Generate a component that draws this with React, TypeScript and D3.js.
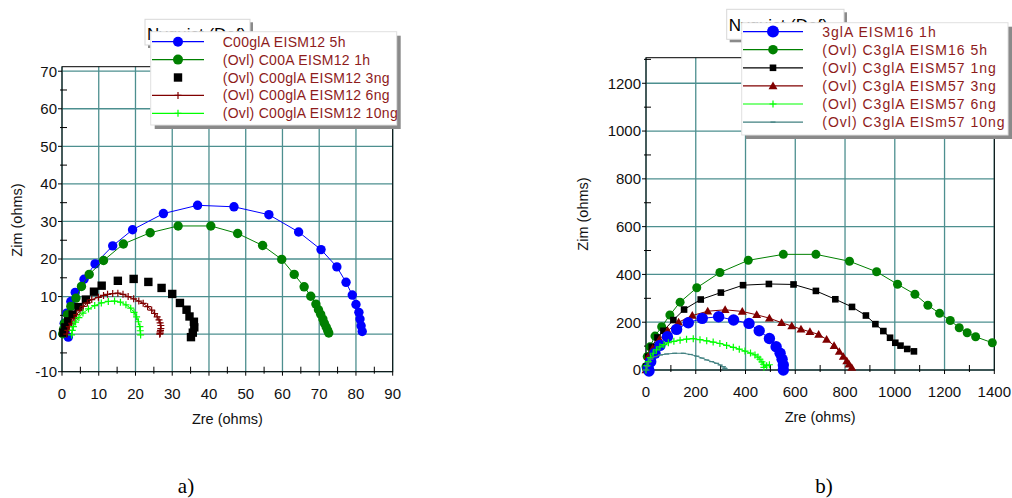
import React, { useEffect, useRef } from "react";
import * as d3 from "d3";

type Pt = [number, number];

// ---------- panel a) ----------
const aXTicks = [0, 10, 20, 30, 40, 50, 60, 70, 80, 90];
const aYTicks = [-10, 0, 10, 20, 30, 40, 50, 60, 70];
const aLabels = [
  "C00glA EISM12 5h",
  "(Ovl) C00A EISM12 1h",
  "(Ovl) C00glA EISM12 3ng",
  "(Ovl) C00glA EISM12 6ng",
  "(Ovl) C00glA EISM12 10ng",
];
const aBlue5h: Pt[] = [
  [1.7, -0.8], [0.8, 0.6], [0.6, 2.9], [1.3, 5.6], [2.4, 8.7], [3.6, 11.1], [6.0, 14.6],
  [9.0, 18.7], [13.8, 23.5], [19.2, 27.8], [27.6, 32.1], [36.9, 34.3], [46.8, 33.9],
  [56.3, 31.8], [64.4, 27.2], [70.5, 22.5], [74.8, 17.9], [77.3, 13.8], [79.0, 10.4],
  [80.0, 7.9], [80.8, 5.8], [81.1, 4.0], [81.4, 2.2], [81.7, 0.7],
];
const aGreen1h: Pt[] = [
  [0.2, 0.1], [0.4, 1.2], [0.7, 2.9], [1.5, 5.2], [2.4, 7.4], [3.8, 9.6], [5.3, 12.7],
  [7.4, 15.9], [11.3, 19.6], [16.7, 24.0], [24.0, 27.0], [31.6, 28.8], [40.5, 28.8],
  [47.8, 26.8], [54.6, 23.6], [59.8, 19.9], [63.2, 15.9], [65.9, 12.6], [67.7, 10.1],
  [69.1, 8.0], [69.8, 6.5], [70.4, 5.3], [71.0, 4.0], [71.4, 2.9], [71.9, 1.9],
  [72.3, 1.0], [72.6, 0.3],
];
const aBlack3ng: Pt[] = [
  [0.4, 0.4], [0.9, 1.8], [1.7, 3.4], [2.9, 5.2], [4.5, 7.2], [6.5, 9.2], [8.7, 11.3],
  [10.8, 12.9], [15.2, 14.2], [19.5, 14.7], [23.5, 13.9], [27.1, 12.3], [30.0, 10.7],
  [32.1, 8.3], [33.9, 6.5], [34.7, 4.7], [35.9, 3.3], [36.0, 1.8], [35.6, 0.4], [35.1, -0.8],
];
const aRed6ng: Pt[] = [
  [1.3, 0], [1.6, 1.0], [2.0, 2.0], [2.6, 2.9], [3.3, 4.1], [4.0, 5.2], [4.9, 6.3],
  [5.8, 7.4], [6.9, 8.3], [8.1, 9.2], [9.9, 9.8], [11.3, 10.3], [12.4, 10.6], [13.8, 10.8],
  [15.2, 10.9], [16.6, 10.6], [18.0, 10.0], [19.5, 9.4], [20.9, 8.8], [22.1, 8.2],
  [23.3, 7.3], [24.4, 6.4], [25.2, 5.5], [25.9, 4.6], [26.4, 3.8], [26.7, 3.0], [26.9, 2.3],
  [26.9, 1.5], [26.8, 1.0], [26.7, 0.6], [26.7, 0.2], [26.6, 0.0],
];
const aLime10ng: Pt[] = [
  [2.6, -0.2], [2.8, 1.0], [3.1, 2.0], [3.7, 3.2], [4.6, 4.4], [5.7, 5.6], [7.2, 6.7],
  [8.9, 7.6], [10.7, 8.3], [12.6, 8.7], [14.3, 8.8], [15.9, 8.5], [17.4, 7.8], [18.7, 6.9],
  [19.6, 5.8], [20.3, 4.6], [20.8, 3.3], [21.2, 2.0], [21.3, 0.9], [21.4, -0.2],
];

// ---------- panel b) ----------
const bXTicks = [0, 200, 400, 600, 800, 1000, 1200, 1400];
const bYTicks = [0, 200, 400, 600, 800, 1000, 1200];
const bLabels = [
  "3glA EISM16 1h",
  "(Ovl) C3glA EISM16 5h",
  "(Ovl) C3glA EISM57 1ng",
  "(Ovl) C3glA EISM57 3ng",
  "(Ovl) C3glA EISM57 6ng",
  "(Ovl) C3glA EISm57 10ng",
];
const bBlue1h: Pt[] = [
  [12, -4], [9, 7], [19, 35], [36, 70], [56, 103], [86, 139], [123, 170], [170, 198],
  [226, 216], [292, 223], [352, 209], [414, 195], [455, 164], [496, 132], [523, 97],
  [539, 70], [547, 45], [552, 21], [552, 0],
];
const bGreen5h: Pt[] = [
  [0, 14], [5, 56], [16, 97], [36, 142], [63, 181], [96, 230], [137, 284], [204, 344],
  [297, 408], [411, 459], [552, 484], [683, 484], [818, 455], [927, 411], [1011, 359],
  [1081, 317], [1133, 271], [1180, 237], [1223, 207], [1259, 177], [1291, 156],
  [1325, 139], [1392, 114],
];
const bBlack1ng: Pt[] = [
  [1, 14], [9, 56], [23, 97], [46, 136], [70, 164], [110, 209], [153, 253], [220, 295],
  [301, 324], [390, 355], [494, 360], [593, 358], [683, 331], [761, 296], [828, 264],
  [884, 228], [922, 192], [954, 163], [981, 135], [1002, 114], [1023, 102], [1050, 88],
  [1077, 78],
];
const bRed3ng: Pt[] = [
  [0, 0], [2, 14], [9, 56], [27, 90], [54, 128], [87, 164], [131, 200], [186, 228],
  [248, 246], [318, 252], [387, 245], [445, 231], [496, 217], [545, 198], [586, 184],
  [623, 171], [659, 160], [694, 149], [726, 128], [756, 102], [777, 77], [793, 56],
  [807, 38], [816, 24], [827, 10],
];
const bLime6ng: Pt[] = [
  [0, 0], [4, 18], [9, 35], [18, 52], [29, 70], [42, 84], [56, 97], [72, 106], [90, 114],
  [112, 120], [137, 125], [163, 129], [190, 131], [217, 127], [244, 122], [270, 117],
  [297, 111], [324, 103], [351, 95], [375, 87], [398, 79], [420, 71], [438, 63],
  [450, 54], [458, 45], [466, 34], [472, 24], [474, 11], [485, 18], [496, 22],
];
const bTeal10ng: Pt[] = [
  [0, 0], [4, 15], [9, 31], [20, 45], [36, 56], [58, 63], [83, 67], [115, 70], [150, 70],
  [178, 65], [204, 58], [225, 50], [244, 42], [264, 35], [284, 28], [298, 21], [311, 14],
  [316, 8], [318, 5],
];

const GRID = "#4d8f8f";
const LEG_TEXT = "#8e1b1b";

type Marker = "circle" | "square" | "plus" | "triangle" | "dash" | "none";
interface Series {
  data: Pt[];
  color: string;
  marker: Marker;
  size: number;
  line: boolean;
}

interface Panel {
  left: number; right: number; top: number; bottom: number;
  xDomain: [number, number]; yDomain: [number, number];
  xTicks: number[]; yTicks: number[]; xMinor: number; yMinor: number;
  series: Series[]; order: number[];
  labels: string[];
  legend: { x0: number; x1: number; y0: number; y1: number; row0: number; step: number; lineX0: number; lineX1: number; textX: number; spacing: number };
  title: { x0: number; x1: number; y0: number; y1: number; baseline: number };
  zimX: number; zimY: number;
}

function drawMarker(g: d3.Selection<SVGGElement, unknown, null, undefined>, m: Marker, x: number, y: number, s: number, color: string) {
  if (m === "circle") {
    g.append("circle").attr("cx", x).attr("cy", y).attr("r", s).attr("fill", color);
  } else if (m === "square") {
    g.append("rect").attr("x", x - s).attr("y", y - s).attr("width", 2 * s).attr("height", 2 * s).attr("fill", color);
  } else if (m === "plus") {
    g.append("path").attr("d", `M${x - s},${y}H${x + s}M${x},${y - s}V${y + s}`).attr("stroke", color).attr("stroke-width", 1.2);
  } else if (m === "dash") {
    g.append("path").attr("d", `M${x - s},${y}H${x + s}`).attr("stroke", color).attr("stroke-width", 1.2);
  } else if (m === "triangle") {
    g.append("path").attr("d", d3.symbol(d3.symbolTriangle, s * s * 1.7)())
      .attr("transform", `translate(${x},${y + s * 0.15})`).attr("fill", color);
  }
}

function drawPanel(root: d3.Selection<SVGSVGElement, unknown, null, undefined>, p: Panel) {
  const x = d3.scaleLinear().domain(p.xDomain).range([p.left, p.right]);
  const y = d3.scaleLinear().domain(p.yDomain).range([p.bottom, p.top]);
  const g = root.append("g").attr("font-family", "Liberation Sans, Arial, sans-serif");

  // grid
  p.xTicks.forEach((t) => {
    g.append("line").attr("x1", x(t)).attr("x2", x(t)).attr("y1", p.top).attr("y2", p.bottom)
      .attr("stroke", GRID).attr("stroke-width", 1.3);
  });
  p.yTicks.forEach((t) => {
    g.append("line").attr("x1", p.left).attr("x2", p.right).attr("y1", y(t)).attr("y2", y(t))
      .attr("stroke", GRID).attr("stroke-width", 1.3);
  });
  // frame
  g.append("rect").attr("x", p.left).attr("y", p.top).attr("width", p.right - p.left)
    .attr("height", p.bottom - p.top).attr("fill", "none").attr("stroke", "#000").attr("stroke-width", 1);

  // ticks
  const xMinor = d3.range(p.xDomain[0], p.xDomain[1] + 1e-9, p.xMinor);
  xMinor.forEach((t) => {
    const major = p.xTicks.includes(t);
    g.append("line").attr("x1", x(t)).attr("x2", x(t))
      .attr("y1", p.bottom + (major ? 4 : 2)).attr("y2", p.bottom - (major ? 0 : 5))
      .attr("stroke", "#000");
  });
  const yMinor = d3.range(p.yDomain[0], p.yDomain[1], p.yMinor);
  yMinor.forEach((t) => {
    const major = p.yTicks.includes(t);
    g.append("line").attr("y1", y(t)).attr("y2", y(t))
      .attr("x1", p.left - (major ? 4 : 2)).attr("x2", p.left + (major ? 0 : 5))
      .attr("stroke", "#000");
  });
  p.xTicks.forEach((t) => {
    g.append("text").attr("x", x(t)).attr("y", p.bottom + 27).attr("text-anchor", "middle")
      .attr("font-size", 15).attr("fill", "#111").text(String(t));
  });
  p.yTicks.forEach((t) => {
    g.append("text").attr("x", p.left - 5).attr("y", y(t) + 5.4).attr("text-anchor", "end")
      .attr("font-size", 15).attr("fill", "#111").text(String(t));
  });
  // axis titles
  g.append("text").attr("x", (p.left + p.right) / 2).attr("y", p.bottom + 52).attr("text-anchor", "middle")
    .attr("font-size", 14.5).attr("fill", "#111").text("Zre (ohms)");
  g.append("text").attr("transform", `translate(${p.zimX},${p.zimY}) rotate(-90)`).attr("text-anchor", "middle")
    .attr("font-size", 14.5).attr("fill", "#111").text("Zim (ohms)");

  // series
  p.order.forEach((i) => {
    const s = p.series[i];
    const sg = g.append("g");
    if (s.line) {
      const line = d3.line<Pt>().x((d) => x(d[0])).y((d) => y(d[1]));
      sg.append("path").attr("d", line(s.data)).attr("fill", "none").attr("stroke", s.color).attr("stroke-width", 1);
    }
    s.data.forEach((d) => drawMarker(sg, s.marker, x(d[0]), y(d[1]), s.size, s.color));
  });

  // title box (behind legend)
  const t = p.title;
  g.append("rect").attr("x", t.x0 + 3).attr("y", t.y0 + 3).attr("width", t.x1 - t.x0).attr("height", t.y1 - t.y0).attr("fill", "#8a8a8a");
  g.append("rect").attr("x", t.x0).attr("y", t.y0).attr("width", t.x1 - t.x0).attr("height", t.y1 - t.y0)
    .attr("fill", "#fff").attr("stroke", "#d8d8d8");
  g.append("text").attr("x", t.x0 + 2).attr("y", t.baseline).attr("font-size", 17).attr("fill", "#000").text("Nyquist (Def)");

  // legend
  const L = p.legend;
  g.append("rect").attr("x", L.x0 + 4).attr("y", L.y0 + 4).attr("width", L.x1 - L.x0).attr("height", L.y1 - L.y0).attr("fill", "#8a8a8a");
  g.append("rect").attr("x", L.x0).attr("y", L.y0).attr("width", L.x1 - L.x0).attr("height", L.y1 - L.y0)
    .attr("fill", "#fff").attr("stroke", "#e0e0e0");
  p.labels.forEach((lab, i) => {
    const s = p.series[i];
    const ry = L.row0 + i * L.step;
    const lg = g.append("g");
    if (s.line) {
      lg.append("line").attr("x1", L.lineX0).attr("x2", L.lineX1).attr("y1", ry).attr("y2", ry)
        .attr("stroke", s.color).attr("stroke-width", 1.2);
    }
    drawMarker(lg, s.marker, (L.lineX0 + L.lineX1) / 2, ry, s.marker === "circle" ? s.size + 0.3 : s.size, s.color);
    lg.append("text").attr("x", L.textX).attr("y", ry + 5).attr("font-size", 14)
      .attr("letter-spacing", L.spacing).attr("fill", LEG_TEXT).text(lab);
  });
}

const panelA: Panel = {
  left: 62, right: 392.7, top: 66.7, bottom: 371.7,
  xDomain: [0, 90], yDomain: [-10, 71.2], xTicks: aXTicks, yTicks: aYTicks, xMinor: 5, yMinor: 5,
  series: [
    { data: aBlue5h, color: "#0000ff", marker: "circle", size: 4.7, line: true },
    { data: aGreen1h, color: "#008000", marker: "circle", size: 4.7, line: true },
    { data: aBlack3ng, color: "#000", marker: "square", size: 4.2, line: false },
    { data: aRed6ng, color: "#800000", marker: "plus", size: 3.5, line: true },
    { data: aLime10ng, color: "#00ff00", marker: "plus", size: 3.5, line: true },
  ],
  order: [0, 1, 2, 3, 4],
  labels: aLabels,
  legend: { x0: 150.7, x1: 396.7, y0: 31.7, y1: 125, row0: 41.7, step: 17.9, lineX0: 152, lineX1: 204, textX: 222.7, spacing: 0.3 },
  title: { x0: 145, x1: 250, y0: 19.3, y1: 45, baseline: 39.5 },
  zimX: 22, zimY: 220,
};

const panelB: Panel = {
  left: 646, right: 994.3, top: 57.7, bottom: 370,
  xDomain: [0, 1400], yDomain: [0, 1307], xTicks: bXTicks, yTicks: bYTicks, xMinor: 100, yMinor: 100,
  series: [
    { data: bBlue1h, color: "#0000ff", marker: "circle", size: 5.7, line: true },
    { data: bGreen5h, color: "#008000", marker: "circle", size: 4.5, line: true },
    { data: bBlack1ng, color: "#000", marker: "square", size: 3.3, line: true },
    { data: bRed3ng, color: "#800000", marker: "triangle", size: 4.5, line: true },
    { data: bLime6ng, color: "#00ff00", marker: "plus", size: 3.5, line: true },
    { data: bTeal10ng, color: "#408080", marker: "dash", size: 2.5, line: true },
  ],
  order: [1, 2, 3, 0, 4, 5],
  labels: bLabels,
  legend: { x0: 741.7, x1: 1008, y0: 22.7, y1: 135, row0: 31.6, step: 18.1, lineX0: 743, lineX1: 803, textX: 822.3, spacing: 1 },
  title: { x0: 726.7, x1: 844, y0: 9.3, y1: 39.3, baseline: 30.5 },
  zimX: 588, zimY: 214,
};

export default function App() {
  const ref = useRef<SVGSVGElement>(null);
  useEffect(() => {
    const svg = d3.select(ref.current as SVGSVGElement);
    svg.selectAll("*").remove();
    drawPanel(svg, panelA);
    drawPanel(svg, panelB);
    svg.append("text").attr("x", 186).attr("y", 493).attr("text-anchor", "middle")
      .attr("font-family", "Liberation Serif, Times New Roman, serif").attr("font-size", 21).text("a)");
    svg.append("text").attr("x", 824).attr("y", 493).attr("text-anchor", "middle")
      .attr("font-family", "Liberation Serif, Times New Roman, serif").attr("font-size", 21).text("b)");
  }, []);
  return (
    <svg ref={ref} width={1012} height={498}
      style={{ position: "absolute", left: 0, top: 0, background: "#fff" }} />
  );
}
